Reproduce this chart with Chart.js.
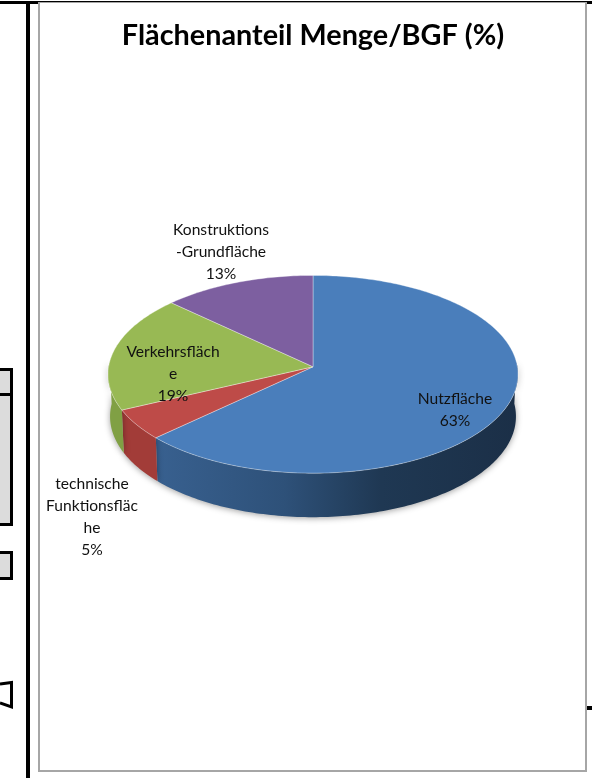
<!DOCTYPE html>
<html><head><meta charset="utf-8">
<style>
html,body{margin:0;padding:0;background:#fff;width:592px;height:778px;overflow:hidden}
.a{position:absolute;box-sizing:border-box}
</style>
<script src="https://cdn.jsdelivr.net/npm/chart.js@4"></script>
</head><body>
<div class="a" style="left:0;top:1px;width:592px;height:3px;background:#000"></div>
<div class="a" style="left:26px;top:1px;width:4px;height:777px;background:#000"></div>
<div class="a" style="left:587px;top:706px;width:5px;height:4px;background:#000"></div>
<div class="a" style="left:-4px;top:368px;width:17px;height:28px;background:#dcdcdc;border:3px solid #000"></div>
<div class="a" style="left:-4px;top:393px;width:17px;height:133px;background:#dcdcdc;border:3px solid #000"></div>
<div class="a" style="left:-4px;top:551px;width:17px;height:29px;background:#dcdcdc;border:3px solid #000"></div>
<svg class="a" style="left:0;top:678px" width="14" height="34"><path d="M0 6 L11.5 4.5 L11.5 29 L0 25" fill="none" stroke="#000" stroke-width="3"/></svg>
<div class="a" style="left:38px;top:2px;width:549px;height:770px;background:#fff;border:2px solid #a6a6a6;border-top-width:1.5px"></div>
<canvas id="c" class="a" width="545" height="766" style="left:40px;top:4px;width:545px;height:766px;filter:blur(0.35px)"></canvas>
<script>
const categories = ["Nutzfläche", "technische Funktionsfläche", "Verkehrsfläche", "Konstruktions-Grundfläche"];
const shares = [63, 5, 19, 13];
const labelLines = [
  ["Nutzfläche", "63%"],
  ["technische", "Funktionsfläc", "he", "5%"],
  ["Verkehrsfläch", "e", "19%"],
  ["Konstruktions", "-Grundfläche", "13%"]
];
const topColors = ["#4a7ebb", "#be4b48", "#98b954", "#7d5fa0"];
const wallColors = ["#2c4d75", "#a23c38", "#80a044", "#644a85"];
const labelCenters = [[415, 406], [52, 513], [133, 370], [181, 248]];

const k = 0.0761, ky = 0.481, DY = 42, XB = 0.99, YB = 0.49;
const proj = (el, a, bottom) => {
  const R = el.outerRadius, c = Math.cos(a), s = Math.sin(a), d = 1 - k * s;
  return bottom
    ? [el.x + XB * R * c / d, el.y + DY + YB * R * s / d]
    : [el.x + R * c / d, el.y + ky * R * s / d];
};
const pie3d = {
  id: "pie3d",
  beforeDatasetDraw(chart, args) {
    const ctx = chart.ctx, els = chart.getDatasetMeta(args.index).data;
    const step = Math.PI / 180;
    // side walls
    els.forEach((el, i) => {
      const a0 = Math.max(el.startAngle, -0.05), a1 = Math.min(el.endAngle, Math.PI + 0.05);
      if (a1 <= a0) return;
      ctx.save();
      ctx.beginPath();
      const pts = [];
      for (let a = a0; a < a1; a += step) pts.push(a);
      pts.push(a1);
      pts.forEach((a, j) => { const p = proj(el, a, false); j ? ctx.lineTo(p[0], p[1]) : ctx.moveTo(p[0], p[1]); });
      pts.slice().reverse().forEach(a => { const p = proj(el, a, true); ctx.lineTo(p[0], p[1]); });
      ctx.closePath();
      ctx.shadowColor = "rgba(0,0,0,0.38)";
      ctx.shadowBlur = 6;
      ctx.shadowOffsetY = 1;
      if (i === 0) {
        const g = ctx.createLinearGradient(el.x - 155, 0, el.x + 205, 0);
        g.addColorStop(0, "#38608f");
        g.addColorStop(0.35, "#2e5179");
        g.addColorStop(0.62, "#1f3853");
        g.addColorStop(1, "#1b2f47");
        ctx.fillStyle = g;
      } else ctx.fillStyle = wallColors[i];
      ctx.fill();
      ctx.restore();
    });
    // top faces
    els.forEach((el, i) => {
      ctx.save();
      ctx.beginPath();
      ctx.moveTo(el.x, el.y);
      for (let a = el.startAngle; a < el.endAngle; a += step) { const p = proj(el, a, false); ctx.lineTo(p[0], p[1]); }
      const e = proj(el, el.endAngle, false);
      ctx.lineTo(e[0], e[1]);
      ctx.closePath();
      ctx.fillStyle = topColors[i];
      ctx.strokeStyle = "rgba(255,255,255,0.35)";
      ctx.lineWidth = 1;
      ctx.lineJoin = "round";
      ctx.fill();
      ctx.stroke();
      ctx.restore();
    });
    return false;
  },
  afterDatasetsDraw(chart) {
    const ctx = chart.ctx;
    ctx.save();
    ctx.font = "15.6px Lato";
    ctx.fillStyle = "#111";
    ctx.textAlign = "center";
    ctx.textBaseline = "middle";
    labelLines.forEach((lines, i) => {
      const [x, y] = labelCenters[i];
      lines.forEach((t, j) => ctx.fillText(t, x, y + (j - (lines.length - 1) / 2) * 21.8));
    });
    ctx.restore();
  }
};
new Chart(document.getElementById("c"), {
  type: "pie",
  data: { labels: categories, datasets: [{ data: shares, backgroundColor: topColors, borderWidth: 0, radius: 204.4 }] },
  options: {
    responsive: false,
    animation: false,
    devicePixelRatio: 1,
    layout: { padding: { top: 0, left: 1, right: 0, bottom: 102 } },
    plugins: {
      legend: { display: false },
      tooltip: { enabled: false },
      title: {
        display: true,
        text: "Flächenanteil Menge/BGF (%)",
        color: "#000",
        font: { family: "Lato", size: 28.8, weight: "bold" },
        padding: { top: 14, bottom: 13 }
      }
    }
  },
  plugins: [pie3d]
});
</script>
</body></html>
